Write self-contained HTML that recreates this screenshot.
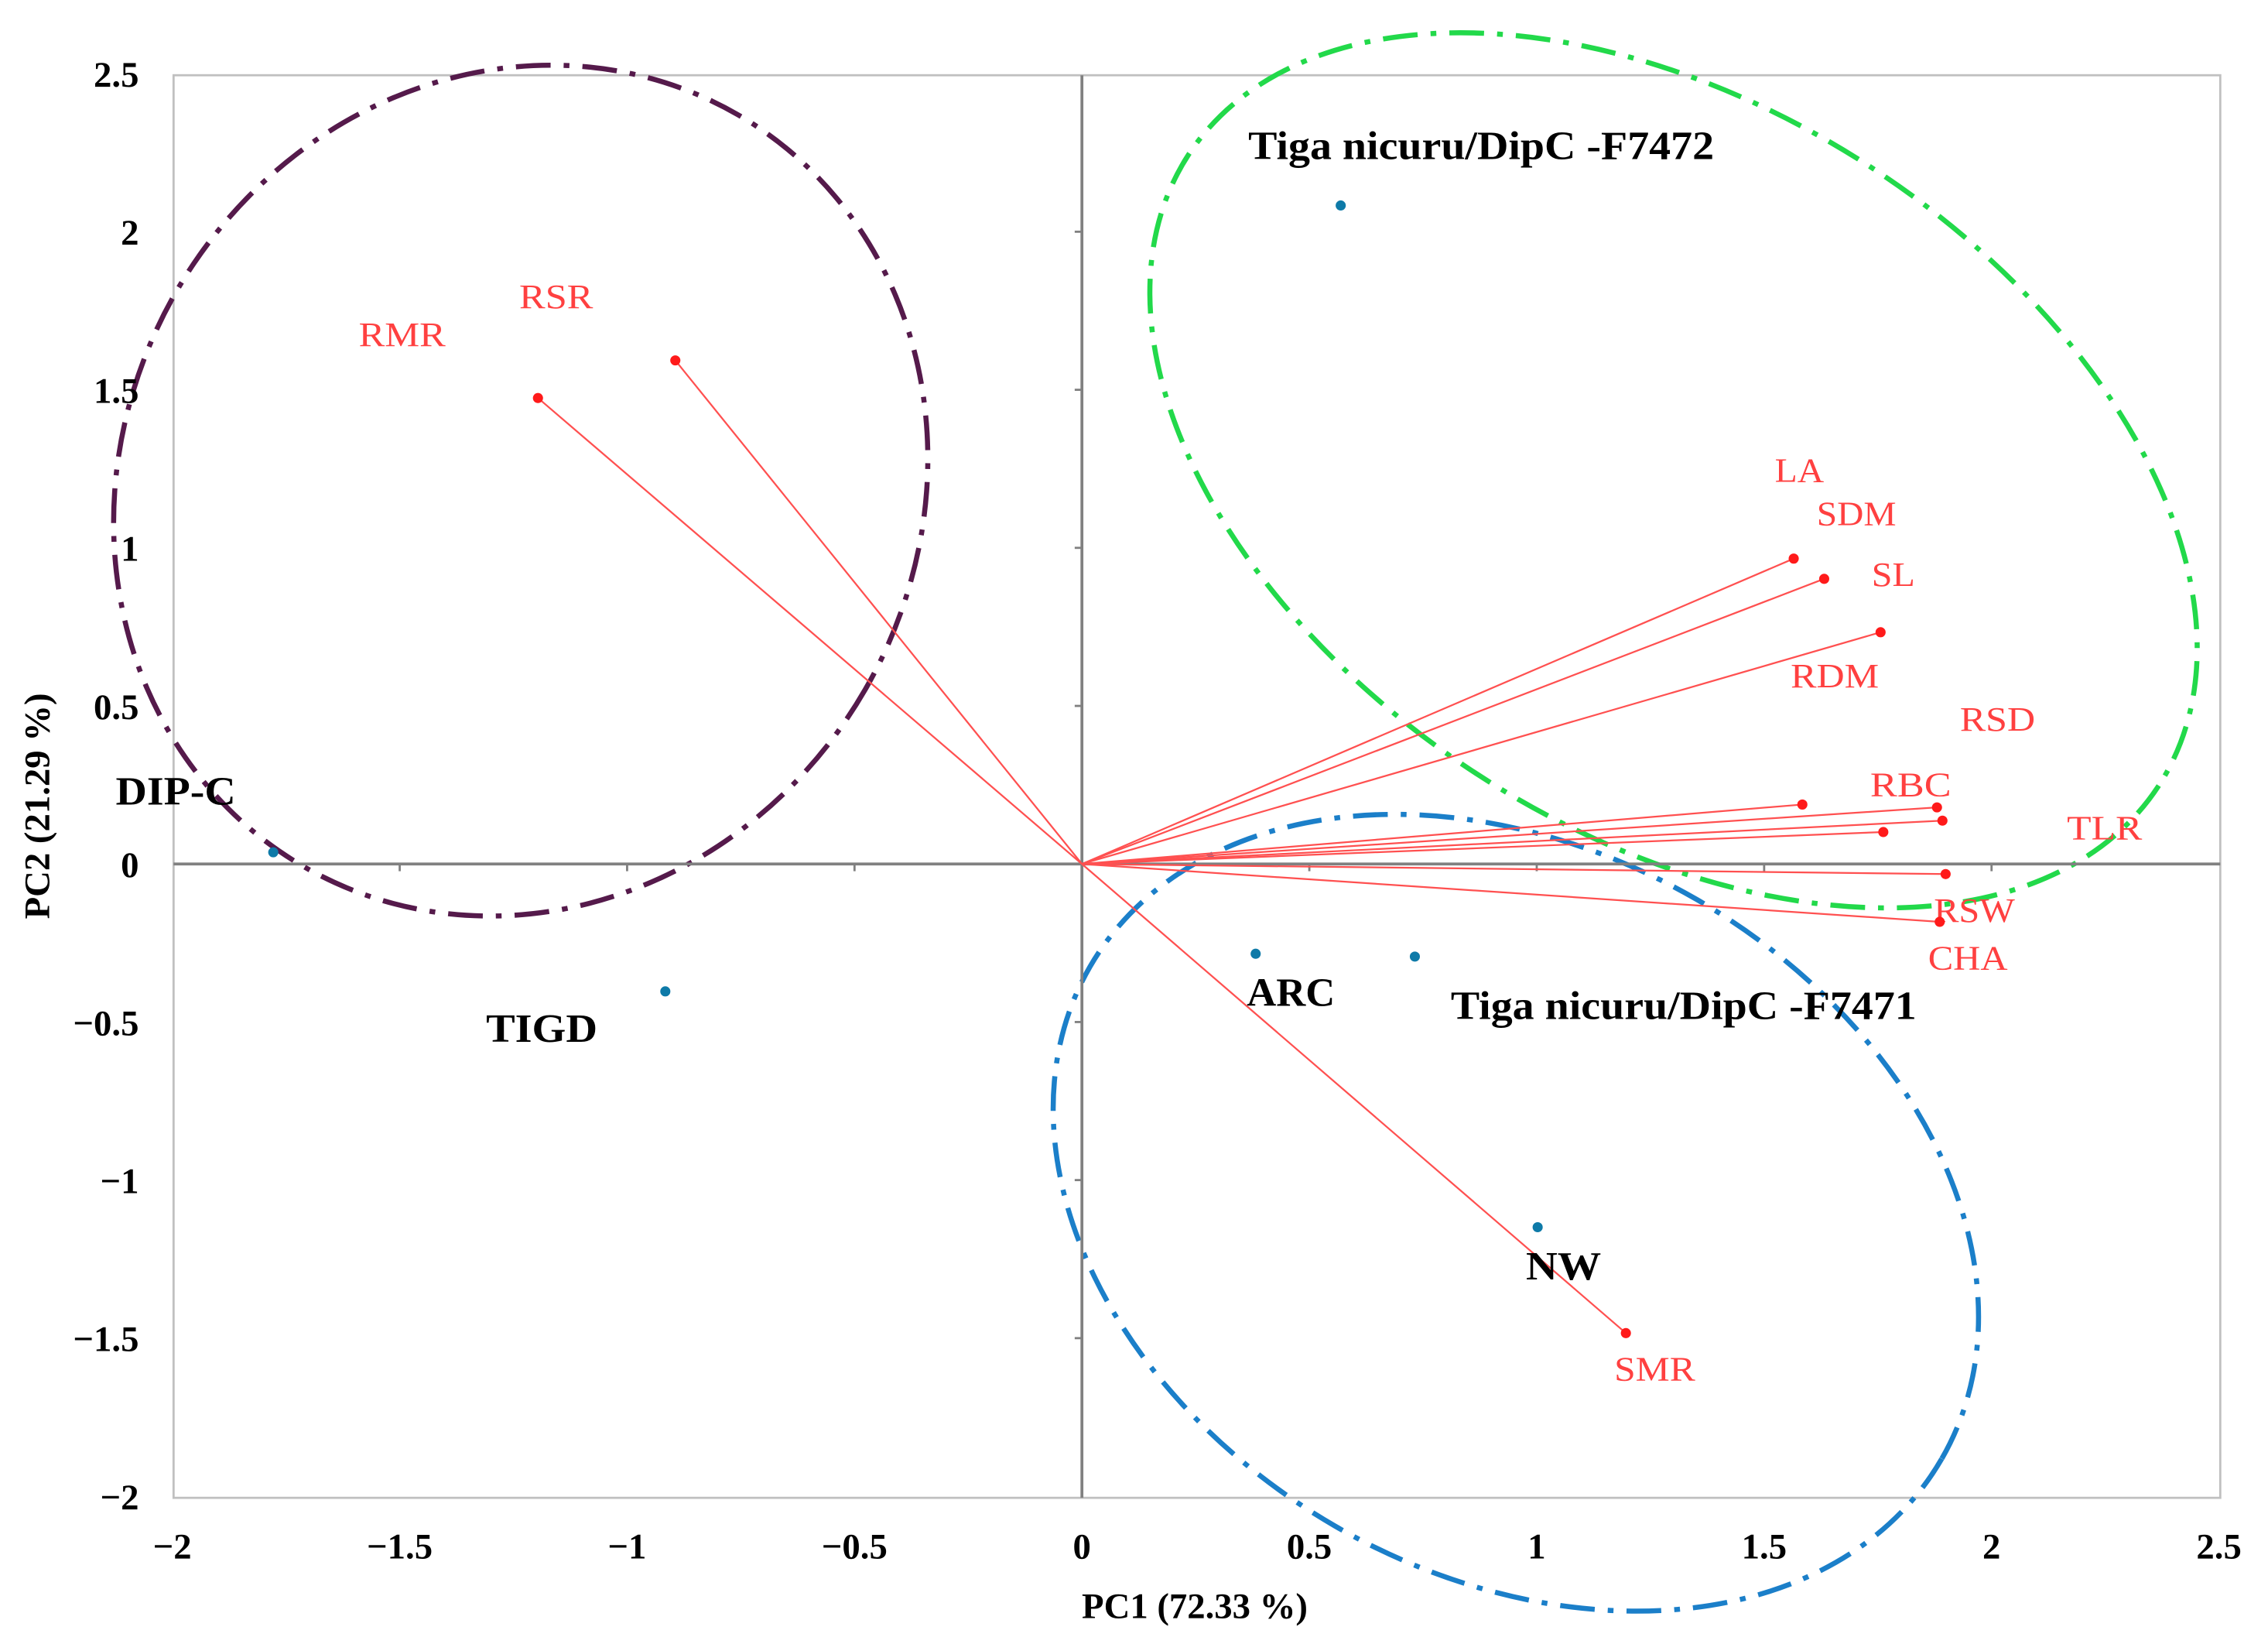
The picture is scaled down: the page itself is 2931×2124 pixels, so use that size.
<!DOCTYPE html>
<html><head><meta charset="utf-8"><style>
html,body{margin:0;padding:0;background:#fff;overflow:hidden;width:2931px;height:2124px;}
svg{display:block;}
text{font-family:"Liberation Serif",serif;}
.tick{font-size:25px;font-weight:bold;fill:#000;}
.vl{font-size:24px;fill:#ff4040;}
.ol{font-size:28px;font-weight:bold;fill:#000;}
</style></head><body>
<svg id="chart" width="2931" height="2124" viewBox="0 0 1568 1136" preserveAspectRatio="none" xmlns="http://www.w3.org/2000/svg">
<rect x="120" y="52" width="1415" height="983" fill="none" stroke="#c0c0c0" stroke-width="1.5"/>
<g id="ell"></g>
<g id="axes"></g>
<g id="vecs"></g>
<g id="obs"></g>
<text x="826" y="1118" text-anchor="middle" font-size="25" font-weight="bold">PC1 (72.33 %)</text>
<text x="0" y="0" transform="translate(34,557) rotate(-90)" text-anchor="middle" font-size="25" font-weight="bold">PC2 (21.29 %)</text>
</svg>
<script>
const xTicks=[-2,-1.5,-1,-0.5,0,0.5,1,1.5,2,2.5];
const yTicks=[2.5,2,1.5,1,0.5,0,-0.5,-1,-1.5,-2];
const varNames=["RMR","RSR","LA","SDM","SL","RDM","RBC","RSD","TLR","RSW","CHA","SMR"];
const varPC1=[-1.196,-0.894,1.565,1.632,1.756,1.584,1.880,1.892,1.762,1.899,1.886,1.196];
const varPC2=[1.474,1.593,0.966,0.902,0.733,0.188,0.179,0.137,0.101,-0.032,-0.183,-1.484];
const obsNames=["DIP-C","TIGD","Tiga nicuru/DipC -F7472","ARC","Tiga nicuru/DipC -F7471","NW"];
const obsPC1=[-1.778,-0.916,0.569,0.382,0.732,1.002];
const obsPC2=[0.037,-0.403,2.083,-0.284,-0.293,-1.149];

const NS="http://www.w3.org/2000/svg";
const X=v=>748+v*314.44;
const Y=v=>597-v*218.44;
function mk(tag,attrs,parent,txt){const e=document.createElementNS(NS,tag);for(const k in attrs)e.setAttribute(k,attrs[k]);if(txt!==undefined)e.textContent=txt;parent.appendChild(e);return e;}
const axes=document.getElementById('axes');
let l=mk('line',{x1:X(0),y1:52,x2:X(0),y2:1035,stroke:'#808080','stroke-width':2},axes);


l=mk('line',{x1:120,y1:Y(0),x2:1535,y2:Y(0),stroke:'#808080','stroke-width':2},axes);


xTicks.forEach(t=>{
 const tx=mk('text',{x:X(t),y:1077,'text-anchor':'middle',class:'tick'},axes,t<0?'\u2212'+(-t):String(t));
 
 
 if(t!==0&&t!==-2&&t!==2.5){const m=mk('line',{x1:X(t),y1:Y(0),x2:X(t),y2:Y(0)+5,stroke:'#808080','stroke-width':1.5},axes);
 
 }
});
yTicks.forEach(t=>{
 const tx=mk('text',{x:96,y:Y(t)+9,'text-anchor':'end',class:'tick'},axes,t<0?'\u2212'+(-t):String(t));
 
 
 if(t!==0&&t!==2.5&&t!==-2){const m=mk('line',{x1:X(0)-5,y1:Y(t),x2:X(0),y2:Y(t),stroke:'#808080','stroke-width':1.5},axes);
 
 }
});
// ellipses
const ell=document.getElementById('ell');
const dash='24 9 4 9';
let e=mk('ellipse',{cx:360,cy:339,rx:275,ry:300,fill:'none',stroke:'#551a4b','stroke-width':3.5,'stroke-dasharray':dash,transform:'rotate(30 360 339)'},ell);


e=mk('ellipse',{cx:1157,cy:325,rx:400,ry:250,fill:'none',stroke:'#22d94a','stroke-width':3.5,'stroke-dasharray':dash,transform:'rotate(33 1157 325)'},ell);


e=mk('ellipse',{cx:1048,cy:838,rx:340,ry:250,fill:'none',stroke:'#1b7fc9','stroke-width':3.5,'stroke-dasharray':dash,transform:'rotate(30 1048 838)'},ell);


// vectors
const vecs=document.getElementById('vecs');
const labelPos={RMR:[248,239,60],RSR:[359,213,51],LA:[1227,333,34],SDM:[1256,363,55],SL:[1294,405,30],RDM:[1238,475,61],RSD:[1355,505,52],RBC:[1293,550,56],TLR:[1429,580,52],RSW:[1337,637,56],CHA:[1333,670,55],SMR:[1116,954,56]};
varNames.forEach((n,i)=>{
 const ln=mk('line',{x1:X(0),y1:Y(0),x2:X(varPC1[i]),y2:Y(varPC2[i]),stroke:'#ff5050','stroke-width':1.2},vecs);
 
 
 const c=mk('circle',{cx:X(varPC1[i]),cy:Y(varPC2[i]),r:3.5,fill:'#ff1a1a'},vecs);
 
 
 const p=labelPos[n];
 const t=mk('text',{x:p[0],y:p[1],textLength:p[2],lengthAdjust:'spacingAndGlyphs',class:'vl'},vecs,n);
 
 
});
// observations
const obs=document.getElementById('obs');
const obsLab=[[80,556,83],[336,720,77],[863,110,322],[862,695,61],[1003,704,322],[1055,884,52]];
obsNames.forEach((n,i)=>{
 const c=mk('circle',{cx:X(obsPC1[i]),cy:Y(obsPC2[i]),r:3.5,fill:'#0e7aa8'},obs);
 
 
 const p=obsLab[i];
 const t=mk('text',{x:p[0],y:p[1],textLength:p[2],lengthAdjust:'spacingAndGlyphs',class:'ol'},obs,n);
 
 
});
</script>
</body></html>
